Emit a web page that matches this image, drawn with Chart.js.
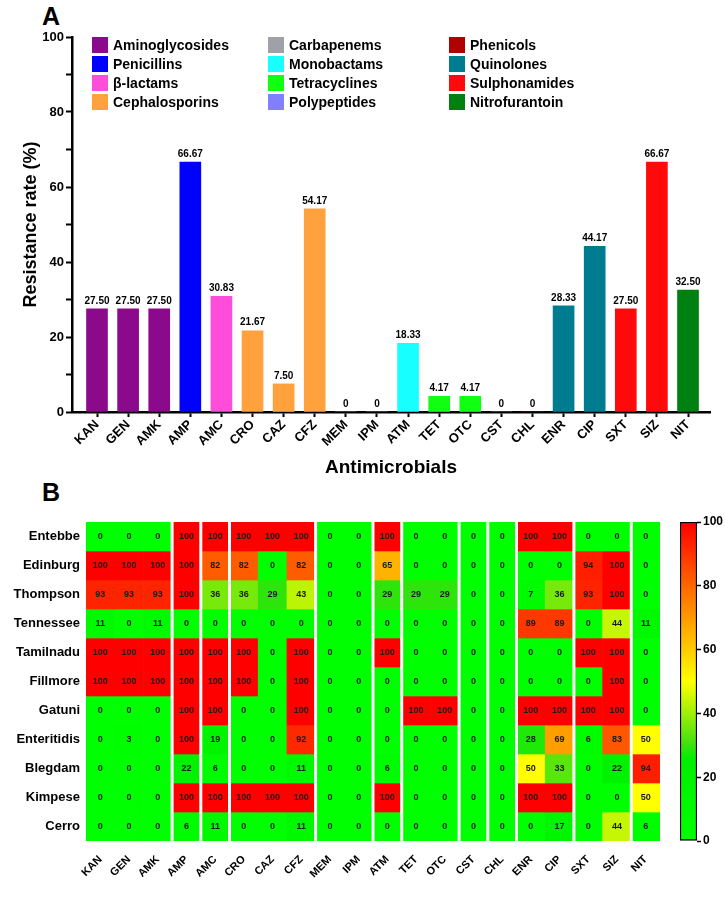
<!DOCTYPE html>
<html lang="en">
<head>
<meta charset="UTF-8">
<title>Antimicrobial resistance</title>
<script src="https://cdn.jsdelivr.net/npm/chart.js"></script>
<style>
    body {
        margin: 0;
        background: #fff;
        font-family: 'Liberation Sans', Arial, sans-serif;
    }
    .wrap {
        position: relative;
        width: 725px;
        height: 904px;
    }
    canvas { position: absolute; }
    #barChart { left: 0; top: 0; }
    #heatChart { left: 0; top: 470px; }
    #cbChart { left: 660px; top: 470px; }
    .panel {
        position: absolute;
        font-weight: bold;
        font-size: 25px;
        color: #000;
    }
</style>
</head>
<body>
<div class="wrap">
    <div class="panel" style="left:42px; top:2px;">A</div>
    <div class="panel" style="left:42px; top:478px;">B</div>
    <canvas id="barChart" width="725" height="490"></canvas>
    <canvas id="heatChart" width="665" height="434"></canvas>
    <canvas id="cbChart" width="65" height="434"></canvas>
</div>
<script>
    const drugs = ['KAN', 'GEN', 'AMK', 'AMP', 'AMC', 'CRO', 'CAZ', 'CFZ', 'MEM', 'IPM',
                   'ATM', 'TET', 'OTC', 'CST', 'CHL', 'ENR', 'CIP', 'SXT', 'SIZ', 'NIT'];
    const drugClass = ['Aminoglycosides', 'Aminoglycosides', 'Aminoglycosides', 'Penicillins', 'β-lactams',
                       'Cephalosporins', 'Cephalosporins', 'Cephalosporins', 'Carbapenems', 'Carbapenems',
                       'Monobactams', 'Tetracyclines', 'Tetracyclines', 'Polypeptides', 'Phenicols',
                       'Quinolones', 'Quinolones', 'Sulphonamides', 'Sulphonamides', 'Nitrofurantoin'];
    const resistance = [27.50, 27.50, 27.50, 66.67, 30.83, 21.67, 7.50, 54.17, 0, 0,
                        18.33, 4.17, 4.17, 0, 0, 28.33, 44.17, 27.50, 66.67, 32.50];

    const classNames = ['Aminoglycosides', 'Penicillins', 'β-lactams', 'Cephalosporins',
                        'Carbapenems', 'Monobactams', 'Tetracyclines', 'Polypeptides',
                        'Phenicols', 'Quinolones', 'Sulphonamides', 'Nitrofurantoin'];
    const classColors = ['#8b0a8b', '#0000ff', '#ff4ddb', '#ffa13c',
                         '#a0a0a8', '#18ffff', '#11ff11', '#8080ff',
                         '#b00000', '#007c91', '#ff0a0a', '#008010'];

    const rateTicks = [0, 10, 20, 30, 40, 50, 60, 70, 80, 90, 100];
    const colorbarTicks = [0, 20, 40, 60, 80, 100];

    const serovars = ['Entebbe', 'Edinburg', 'Thompson', 'Tennessee', 'Tamilnadu', 'Fillmore',
                      'Gatuni', 'Enteritidis', 'Blegdam', 'Kimpese', 'Cerro'];
    const heat = [
        [0, 0, 0, 100, 100, 100, 100, 100, 0, 0, 100, 0, 0, 0, 0, 100, 100, 0, 0, 0],
        [100, 100, 100, 100, 82, 82, 0, 82, 0, 0, 65, 0, 0, 0, 0, 0, 0, 94, 100, 0],
        [93, 93, 93, 100, 36, 36, 29, 43, 0, 0, 29, 29, 29, 0, 0, 7, 36, 93, 100, 0],
        [11, 0, 11, 0, 0, 0, 0, 0, 0, 0, 0, 0, 0, 0, 0, 89, 89, 0, 44, 11],
        [100, 100, 100, 100, 100, 100, 0, 100, 0, 0, 100, 0, 0, 0, 0, 0, 0, 100, 100, 0],
        [100, 100, 100, 100, 100, 100, 0, 100, 0, 0, 0, 0, 0, 0, 0, 0, 0, 0, 100, 0],
        [0, 0, 0, 100, 100, 0, 0, 100, 0, 0, 0, 100, 100, 0, 0, 100, 100, 100, 100, 0],
        [0, 3, 0, 100, 19, 0, 0, 92, 0, 0, 0, 0, 0, 0, 0, 28, 69, 6, 83, 50],
        [0, 0, 0, 22, 6, 0, 0, 11, 0, 0, 6, 0, 0, 0, 0, 50, 33, 0, 22, 94],
        [0, 0, 0, 100, 100, 100, 100, 100, 0, 0, 100, 0, 0, 0, 0, 100, 100, 0, 0, 50],
        [0, 0, 0, 6, 11, 0, 0, 11, 0, 0, 0, 0, 0, 0, 0, 0, 17, 0, 44, 6]
    ];

    // colour map stops: value -> rgb
    const heatStops = [
        [0, [0, 255, 0]],
        [26, [0, 240, 0]],
        [30, [60, 225, 15]],
        [50, [255, 255, 0]],
        [75, [255, 128, 0]],
        [100, [255, 0, 0]]
    ];

    const FONT = "'Liberation Sans', Arial, sans-serif";

    function heatColor(v) {
        for (let i = 1; i < heatStops.length; i++) {
            const [v0, c0] = heatStops[i - 1];
            const [v1, c1] = heatStops[i];
            if (v <= v1) {
                const t = (v - v0) / (v1 - v0);
                const c = c0.map((a, k) => Math.round(a + (c1[k] - a) * t));
                return 'rgb(' + c.join(',') + ')';
            }
        }
        return 'rgb(255,0,0)';
    }

    // ---------- panel A ----------
    const barLabels = {
        id: 'barLabels',
        afterDatasetsDraw(chart) {
            const ctx = chart.ctx;
            const meta = chart.getDatasetMeta(0);
            ctx.save();
            ctx.font = 'bold 10px ' + FONT;
            ctx.fillStyle = '#000';
            ctx.textAlign = 'center';
            ctx.textBaseline = 'bottom';
            meta.data.forEach((bar, i) => {
                const v = resistance[i];
                ctx.fillText(v === 0 ? '0' : v.toFixed(2), bar.x, bar.y - 3);
            });
            ctx.restore();
        }
    };

    const classLegend = {
        id: 'classLegend',
        afterDraw(chart) {
            const ctx = chart.ctx;
            const colX = [92, 268, 449];
            const rowY = [45, 64, 83, 102];
            ctx.save();
            ctx.font = 'bold 14px ' + FONT;
            ctx.textBaseline = 'middle';
            ctx.textAlign = 'left';
            classNames.forEach((name, i) => {
                const x = colX[Math.floor(i / 4)];
                const y = rowY[i % 4];
                ctx.fillStyle = classColors[i];
                ctx.fillRect(x, y - 8, 16, 16);
                ctx.fillStyle = '#000';
                ctx.fillText(name, x + 21, y + 1);
            });
            ctx.restore();
        }
    };

    new Chart(document.getElementById('barChart'), {
        type: 'bar',
        data: {
            datasets: [{
                data: resistance.map((v, i) => ({ x: i, y: v })),
                backgroundColor: drugClass.map(c => classColors[classNames.indexOf(c)]),
                barThickness: 21,
                borderWidth: 0
            }]
        },
        options: {
            responsive: false,
            animation: false,
            layout: { padding: { top: 37, right: 15, bottom: 9 } },
            plugins: { legend: { display: false }, tooltip: { enabled: false } },
            scales: {
                x: {
                    type: 'linear',
                    offset: false,
                    min: -0.804,
                    max: 19.707,
                    afterBuildTicks: axis => { axis.ticks = drugs.map((_, i) => ({ value: i })); },
                    ticks: {
                        callback: v => drugs[v],
                        minRotation: 45,
                        maxRotation: 45,
                        autoSkip: false,
                        color: '#000',
                        padding: 0,
                        font: { family: FONT, weight: 'bold', size: 13 }
                    },
                    grid: { offset: false, drawOnChartArea: false, tickLength: 5, tickColor: '#000', tickWidth: 2 },
                    border: { color: '#000', width: 2.5 },
                    title: {
                        display: true,
                        text: 'Antimicrobials',
                        color: '#000',
                        padding: 2,
                        font: { family: FONT, weight: 'bold', size: 19 }
                    },
                    afterFit: s => { s.height = 69; }
                },
                y: {
                    min: 0,
                    max: 100,
                    afterBuildTicks: axis => { axis.ticks = rateTicks.map(v => ({ value: v })); },
                    ticks: {
                        callback: v => (v % 20 === 0 ? v : ''),
                        color: '#000',
                        padding: 2,
                        font: { family: FONT, weight: 'bold', size: 13 }
                    },
                    grid: { drawOnChartArea: false, tickLength: 6, tickColor: '#000', tickWidth: 2 },
                    border: { color: '#000', width: 2.5 },
                    title: {
                        display: true,
                        text: 'Resistance rate (%)',
                        color: '#000',
                        padding: { top: 20, bottom: 20 },
                        font: { family: FONT, weight: 'bold', size: 18 }
                    },
                    afterFit: s => { s.width = 72; }
                }
            }
        },
        plugins: [barLabels, classLegend]
    });

    // ---------- panel B ----------
    const heatOverlay = {
        id: 'heatOverlay',
        afterDatasetsDraw(chart) {
            const { ctx, chartArea, scales: { x, y } } = chart;
            ctx.save();
            ctx.strokeStyle = '#fff';
            ctx.lineWidth = 3;
            for (let j = 1; j < drugs.length; j++) {
                if (drugClass[j] !== drugClass[j - 1]) {
                    const xx = (x.getPixelForValue(j - 1) + x.getPixelForValue(j)) / 2;
                    ctx.beginPath();
                    ctx.moveTo(xx, chartArea.top);
                    ctx.lineTo(xx, chartArea.bottom);
                    ctx.stroke();
                }
            }
            ctx.fillStyle = '#1a1a1a';
            ctx.font = 'bold 9px ' + FONT;
            ctx.textAlign = 'center';
            ctx.textBaseline = 'middle';
            heat.forEach((row, r) => {
                row.forEach((v, j) => {
                    ctx.fillText(String(v), x.getPixelForValue(j), y.getPixelForValue(r));
                });
            });
            ctx.restore();
        }
    };

    new Chart(document.getElementById('heatChart'), {
        type: 'bar',
        data: {
            labels: drugs,
            datasets: serovars.map((name, r) => ({
                label: name,
                data: heat[r].map(() => [r - 0.5, r + 0.5]),
                backgroundColor: heat[r].map(heatColor),
                grouped: false,
                barPercentage: 1,
                categoryPercentage: 1,
                borderWidth: 0
            }))
        },
        options: {
            responsive: false,
            animation: false,
            layout: { padding: { top: 52, right: 5 } },
            plugins: { legend: { display: false }, tooltip: { enabled: false } },
            scales: {
                x: {
                    grid: { display: false },
                    border: { display: false },
                    ticks: {
                        minRotation: 45,
                        maxRotation: 45,
                        autoSkip: false,
                        color: '#000',
                        padding: 4,
                        font: { family: FONT, weight: 'bold', size: 11 }
                    },
                    afterFit: s => { s.height = 63; }
                },
                y: {
                    min: -0.5,
                    max: 10.5,
                    reverse: true,
                    afterBuildTicks: axis => { axis.ticks = serovars.map((_, i) => ({ value: i })); },
                    ticks: {
                        callback: v => serovars[v],
                        color: '#000',
                        padding: 6,
                        font: { family: FONT, weight: 'bold', size: 13 }
                    },
                    grid: { display: false, drawTicks: false },
                    border: { display: false },
                    afterFit: s => { s.width = 86; }
                }
            }
        },
        plugins: [heatOverlay]
    });

    // colour bar
    function barGradient(chart) {
        const { ctx, chartArea, scales } = chart;
        if (!chartArea) return '#00ff00';
        const y = scales.y;
        const g = ctx.createLinearGradient(0, y.getPixelForValue(0), 0, y.getPixelForValue(100));
        for (let v = 0; v <= 100; v += 2) {
            g.addColorStop(v / 100, heatColor(v));
        }
        return g;
    }

    new Chart(document.getElementById('cbChart'), {
        type: 'bar',
        data: {
            labels: [''],
            datasets: [{
                data: [[0, 100]],
                backgroundColor: ctx => barGradient(ctx.chart),
                borderColor: '#000',
                borderWidth: 1.5,
                borderSkipped: false,
                barPercentage: 1,
                categoryPercentage: 1
            }]
        },
        options: {
            responsive: false,
            animation: false,
            layout: { padding: { top: 52, bottom: 63, left: 20 } },
            plugins: { legend: { display: false }, tooltip: { enabled: false } },
            scales: {
                x: { display: false },
                y: {
                    position: 'right',
                    min: 0,
                    max: 100,
                    afterBuildTicks: axis => { axis.ticks = colorbarTicks.map(v => ({ value: v })); },
                    ticks: {
                        color: '#000',
                        padding: 2,
                        font: { family: FONT, weight: 'bold', size: 12 }
                    },
                    grid: { drawOnChartArea: false, tickLength: 4, tickColor: '#000', tickWidth: 1.5 },
                    border: { display: false },
                    afterFit: s => { s.width = 28; }
                }
            }
        }
    });
</script>
</body>
</html>
